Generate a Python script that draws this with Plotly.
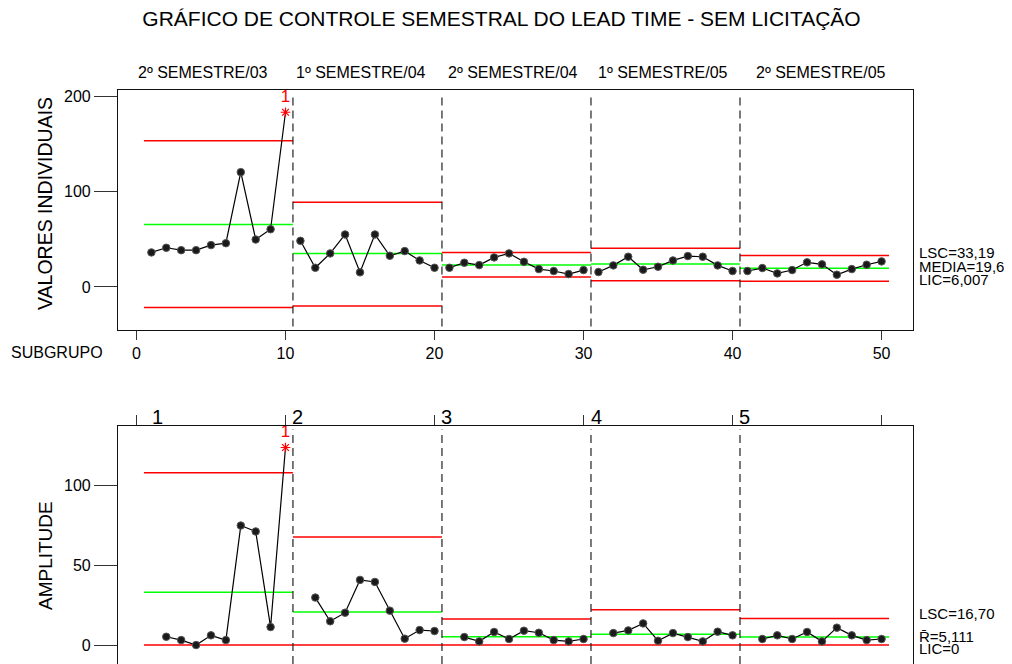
import plotly.graph_objects as go

# ---------------- data ----------------
subgroups = list(range(1, 51))
individual = [36.3, 41.2, 38.7, 38.7, 44.0, 46.0, 120.7, 49.9, 60.7, 183.6,
              48.5, 20.2, 35.3, 55.2, 15.4, 55.2, 32.8, 37.7, 27.9, 20.2,
              20.2, 25.5, 23.0, 31.1, 35.3, 26.5, 18.8, 16.8, 13.6, 17.8,
              15.7, 22.7, 31.8, 18.1, 21.3, 27.9, 32.5, 31.8, 22.7, 16.8,
              16.8, 19.9, 14.3, 17.8, 25.9, 23.8, 12.9, 18.8, 23.4, 26.9]
moving_range = [None, 5.2, 3.1, 0.0, 6.1, 3.1, 75.0, 71.3, 11.3, 124.0,
                None, 29.8, 14.9, 20.3, 40.9, 39.6, 21.6, 4.0, 9.4, 8.8,
                None, 5.0, 2.3, 8.2, 3.8, 9.0, 7.7, 3.1, 2.3, 3.8,
                None, 7.5, 9.2, 13.6, 2.7, 7.5, 5.0, 2.3, 8.4, 6.1,
                None, 3.8, 6.1, 3.8, 8.2, 2.3, 10.9, 6.1, 3.1, 3.8]
stage_names = ["2º SEMESTRE/03", "1º SEMESTRE/04", "2º SEMESTRE/04",
               "1º SEMESTRE/05", "2º SEMESTRE/05"]
stage_numbers = ["1", "2", "3", "4", "5"]
stage_bounds = [0.5, 10.5, 20.5, 30.5, 40.5, 50.5]
i_ucl = [153.6, 89.0, 36.3, 40.8, 33.19]
i_cl = [65.6, 35.3, 23.0, 24.1, 19.6]
i_lcl = [-21.6, -19.9, 10.5, 6.6, 6.007]
mr_ucl = [108.2, 67.9, 16.4, 22.2, 16.70]
mr_cl = [33.1, 20.75, 5.2, 6.7, 5.111]
mr_lcl = [0, 0, 0, 0, 0]
flagged = [10]
x_ticks = [0, 10, 20, 30, 40, 50]
i_ticks = [0, 100, 200]
mr_ticks = [0, 50, 100]

# ---------------- layout helpers ----------------
# page has an 8px body margin, so the figure is shifted by OFF px
OFF = 8
PAGE_W, PAGE_H = 1012, 664
W, H = PAGE_W - OFF, PAGE_H - OFF
BOX_L, BOX_R, BOX_T = 118, 913, 90          # page pixels of the plot box
L, R, T, B = BOX_L - OFF, PAGE_W - BOX_R, BOX_T - OFF, 0
PH = H - T - B

# label placement (page pixels)
STAGE_NAME_CX = [203, 361, 513, 663, 821]
STAGE_NUM_CX = [157.5, 297.5, 446, 596, 744]


def py(p):  # page pixel y -> paper
    return (PAGE_H - p) / PH


def px(p):  # page pixel x -> paper
    return (p - BOX_L) / (BOX_R - BOX_L)


FONT = "Liberation Sans, Arial, Helvetica, sans-serif"
RED = "#ff0000"
GREEN = "#00ff00"

fig = go.Figure()


def series_with_breaks(vals):
    xs, ys = [], []
    for i, (s, v) in enumerate(zip(subgroups, vals)):
        if i > 0 and (s - 1) % 10 == 0:
            xs.append(None)
            ys.append(None)
        xs.append(s)
        ys.append(v)
    return xs, ys


def stage_lines(vals):
    xs, ys = [], []
    for i, v in enumerate(vals):
        xs += [stage_bounds[i], stage_bounds[i + 1], None]
        ys += [v, v, None]
    return xs, ys


charts = [
    (individual, i_ucl, i_cl, i_lcl, "x", "y"),
    (moving_range, mr_ucl, mr_cl, mr_lcl, "x2", "y2"),
]
for vals, ucl, cl, lcl, xa, ya in charts:
    for lim, col in [(ucl, RED), (lcl, RED), (cl, GREEN)]:
        xs, ys = stage_lines(lim)
        fig.add_trace(go.Scatter(x=xs, y=ys, mode="lines", xaxis=xa, yaxis=ya,
                                 line=dict(color=col, width=1.5),
                                 hoverinfo="skip", showlegend=False))
    xs, ys = series_with_breaks(vals)
    fig.add_trace(go.Scatter(x=xs, y=ys, mode="lines", xaxis=xa, yaxis=ya,
                             line=dict(color="black", width=1.2),
                             connectgaps=False, showlegend=False))
    nx = [s for s, v in zip(subgroups, vals) if v is not None and s not in flagged]
    ny = [v for s, v in zip(subgroups, vals) if v is not None and s not in flagged]
    fig.add_trace(go.Scatter(x=nx, y=ny, mode="markers", xaxis=xa, yaxis=ya,
                             marker=dict(symbol="circle", size=7.5, color="#1a1a1a",
                                         line=dict(color="#555555", width=1)),
                             showlegend=False))
    fx = [s for s, v in zip(subgroups, vals) if s in flagged]
    fy = [v for s, v in zip(subgroups, vals) if s in flagged]
    fig.add_trace(go.Scatter(x=fx, y=fy, mode="markers+text", xaxis=xa, yaxis=ya,
                             marker=dict(symbol="asterisk-open", size=8, color=RED,
                                         line=dict(color=RED, width=1.2)),
                             text=["1"] * len(fx), textposition="top center",
                             textfont=dict(family=FONT, size=17, color=RED),
                             showlegend=False))

xr = [-1.24, 52.11]
axis_common = dict(showgrid=False, zeroline=False, showline=True,
                   linecolor="#111111", linewidth=1.2, ticks="outside",
                   tickcolor="#333333", tickfont=dict(family=FONT, size=16, color="black"))

top_dom = [py(330), 1.0]
bot_dom = [0.0, py(426)]

fig.update_layout(
    width=W, height=H,
    margin=dict(l=L, r=R, t=T, b=B),
    paper_bgcolor="white", plot_bgcolor="white",
    showlegend=False,
    font=dict(family=FONT, color="black"),
    title=dict(text="GRÁFICO DE CONTROLE SEMESTRAL DO LEAD TIME - SEM LICITAÇÃO",
               x=(501.5 - OFF) / W, xanchor="center", xref="container",
               y=1 - (19 - OFF) / H, yanchor="middle", yref="container",
               font=dict(family=FONT, size=21, color="black")),
    xaxis=dict(domain=[0, 1], range=xr, anchor="y", tickvals=x_ticks,
               ticklen=9, mirror=True, **axis_common),
    yaxis=dict(domain=top_dom, range=[-45.2, 207], anchor="x", tickvals=i_ticks,
               ticklen=23, mirror=True, **axis_common),
    xaxis2=dict(domain=[0, 1], range=xr, anchor="y2", side="top", tickvals=x_ticks,
                showticklabels=False, ticklen=10, mirror=False, **axis_common),
    yaxis2=dict(domain=bot_dom, range=[-11.9, 137.5], anchor="x2", tickvals=mr_ticks,
                ticklen=23, mirror=True, **axis_common),
)

shapes = []
for b in stage_bounds[1:-1]:
    shapes.append(dict(type="line", xref="x", yref="y domain", x0=b, x1=b, y0=0.015, y1=0.985,
                       line=dict(color="#222222", width=1.2, dash="8px,5px")))
    shapes.append(dict(type="line", xref="x2", yref="y2 domain", x0=b, x1=b, y0=0, y1=0.985,
                       line=dict(color="#222222", width=1.2, dash="8px,5px")))
fig.update_layout(shapes=shapes)

ann = []
# stage names above top chart
for name, cx in zip(stage_names, STAGE_NAME_CX):
    ann.append(dict(text=name, x=px(cx), xref="paper", y=py(73), yref="paper",
                    showarrow=False, xanchor="center", yanchor="middle",
                    font=dict(family=FONT, size=16, color="black")))
# stage numbers above bottom chart
for num, cx in zip(stage_numbers, STAGE_NUM_CX):
    ann.append(dict(text=num, x=px(cx), xref="paper", y=py(417), yref="paper",
                    showarrow=False, xanchor="center", yanchor="middle",
                    font=dict(family=FONT, size=20, color="black")))
# axis titles
ann.append(dict(text="VALORES INDIVIDUAIS", x=px(45), xref="paper", y=py(204), yref="paper",
                textangle=-90, showarrow=False, xanchor="center", yanchor="middle",
                font=dict(family=FONT, size=19.5, color="black")))
ann.append(dict(text="AMPLITUDE", x=px(45), xref="paper", y=py(556), yref="paper",
                textangle=-90, showarrow=False, xanchor="center", yanchor="middle",
                font=dict(family=FONT, size=19, color="black")))
ann.append(dict(text="SUBGRUPO", x=px(9), xref="paper", y=py(352), yref="paper",
                showarrow=False, xanchor="left", yanchor="middle",
                font=dict(family=FONT, size=16, color="black")))
# limit labels on the right
right = [
    ("LSC=33,19", "y", i_ucl[-1], 3),
    ("MEDIA=19,6", "y", i_cl[-1], 2),
    ("LIC=6,007", "y", i_lcl[-1], 2),
    ("LSC=16,70", "y2", mr_ucl[-1], 5),
    ("R\u0304=5,111", "y2", mr_cl[-1], 0),
    ("LIC=0", "y2", mr_lcl[-1], -3),
]
for txt, yr, yv, sh in right:
    ann.append(dict(text=txt, x=px(917), xref="paper", y=yv, yref=yr, yshift=sh,
                    showarrow=False, xanchor="left", yanchor="middle",
                    font=dict(family=FONT, size=15, color="black")))
fig.update_layout(annotations=ann)

fig.write_html("out.html")
